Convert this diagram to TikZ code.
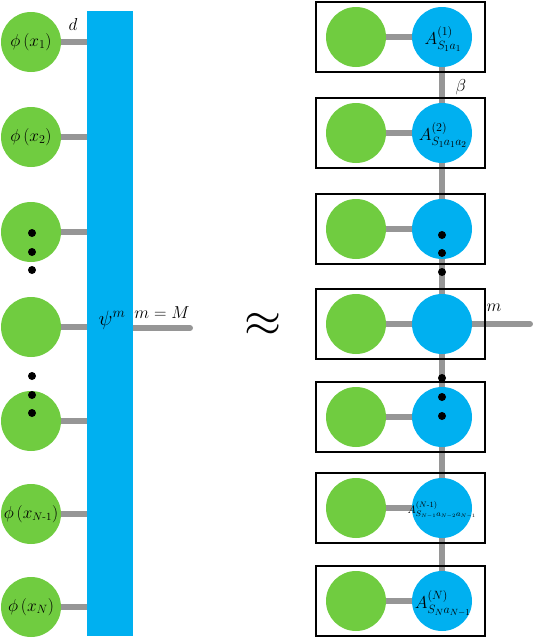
\documentclass[tikz,border=0pt]{standalone}
\usepackage{amsmath}
\usepackage{graphicx}
\usetikzlibrary{backgrounds}
\definecolor{gr}{RGB}{112,204,64}
\definecolor{bl}{RGB}{0,176,240}
\definecolor{lk}{RGB}{150,150,150}
\begin{document}
\begin{tikzpicture}[x=1pt,y=-1pt,
 gnode/.style={circle,fill=gr,minimum size=60pt,inner sep=0pt,font=\fontsize{18}{18}\selectfont},
 bnode/.style={circle,fill=bl,minimum size=60pt,inner sep=0pt},
 link/.style={draw=lk,line width=6pt,line cap=round},
 bx/.style={draw=black,line width=1.3pt,minimum width=169pt,minimum height=70pt,inner sep=0pt},
 dot/.style={circle,fill=black,minimum size=8pt,inner sep=0pt},
 lab/.style={inner sep=0pt,font=\fontsize{19}{19}\selectfont},
 alab/.style={inner sep=0pt,font=\fontsize{18}{18}\selectfont}]
\useasboundingbox (0,0) rectangle (533,638);
% left column
\node[fill=bl,minimum width=46pt,minimum height=625pt,inner sep=0pt] (psi) at (110,323.5) {};
\node[gnode] (l1) at (31,42) {$\phi\left(x_1\right)$};
\node[gnode] (l2) at (31,137) {$\phi\left(x_2\right)$};
\node[gnode] (l3) at (31,232) {};
\node[gnode] (l4) at (31,327) {};
\node[gnode] (l5) at (31,421) {};
\node[gnode,font=\fontsize{16}{16}\selectfont] (l6) at (31,514) {$\phi\left(x_{N\text{-}1}\right)$};
\node[gnode] (l7) at (31,607) {$\phi\left(x_N\right)$};
\coordinate (mout) at (190,328);
\begin{scope}[on background layer]
\foreach \i in {1,...,7} {\draw[link] (l\i.center) -- (l\i.center -| psi.west);}
\draw[link] (mout -| psi.east) -- (mout);
\end{scope}
\node[dot] (ld1) at (32,233) {};
\node[dot] (ld2) at (32,252) {};
\node[dot] (ld3) at (32,270) {};
\node[dot] (ld4) at (32,376) {};
\node[dot] (ld5) at (32,395) {};
\node[dot] (ld6) at (32,413) {};
\node[lab] (dlab) at (73,24) {$d$};
\node[lab,font=\fontsize{21}{21}\selectfont] (psilab) at (112,320) {$\psi^m$};
\node[lab,font=\fontsize{18}{18}\selectfont] (mM) at (162,313) {$m=M$};
\node[lab,font=\fontsize{20}{20}\selectfont] (apx) at (263,325) {\scalebox{2.3}{$\approx$}};
% right column
\foreach \i/\y in {1/37,2/133,3/229,4/324,5/417,6/508,7/601} {
  \node[bx] (box\i) at (400.5,\y) {};
  \node[gnode] (g\i) at (356,\y) {};
  \node[bnode] (b\i) at (442,\y) {};
}
\coordinate (rout) at (530,324);
\begin{scope}[on background layer]
\foreach \i in {1,...,7} {\draw[link] (g\i) -- (b\i);}
\draw[link] (b1.center) -- (b2.center);
\draw[link] (b2.center) -- (b3.center);
\draw[link] (b3.center) -- (b4.center);
\draw[link] (b4.center) -- (b5.center);
\draw[link] (b5.center) -- (b6.center);
\draw[link] (b6.center) -- (b7.center);
\draw[link] (b4.center) -- (rout);
\end{scope}
\node[alab] (a1) at (443,39) {$A^{(1)}_{S_1a_1}$};
\node[alab] (a2) at (443,135) {$A^{(2)}_{S_1a_1a_2}$};
\node[alab,font=\fontsize{11}{11}\selectfont] (a6) at (442,510) {$A^{(N\text{-}1)}_{S_{N-1}a_{N-2}a_{N-1}}$};
\node[alab] (a7) at (443,603) {$A^{(N)}_{S_Na_{N-1}}$};
\node[dot] (rd1) at (442,235) {};
\node[dot] (rd2) at (442,253) {};
\node[dot] (rd3) at (442,272) {};
\node[dot] (rd4) at (442,378) {};
\node[dot] (rd5) at (442,397) {};
\node[dot] (rd6) at (442,416) {};
\node[lab] (beta) at (461,87) {$\beta$};
\node[lab] (mlab) at (494,308) {$m$};
\end{tikzpicture}
\end{document}
